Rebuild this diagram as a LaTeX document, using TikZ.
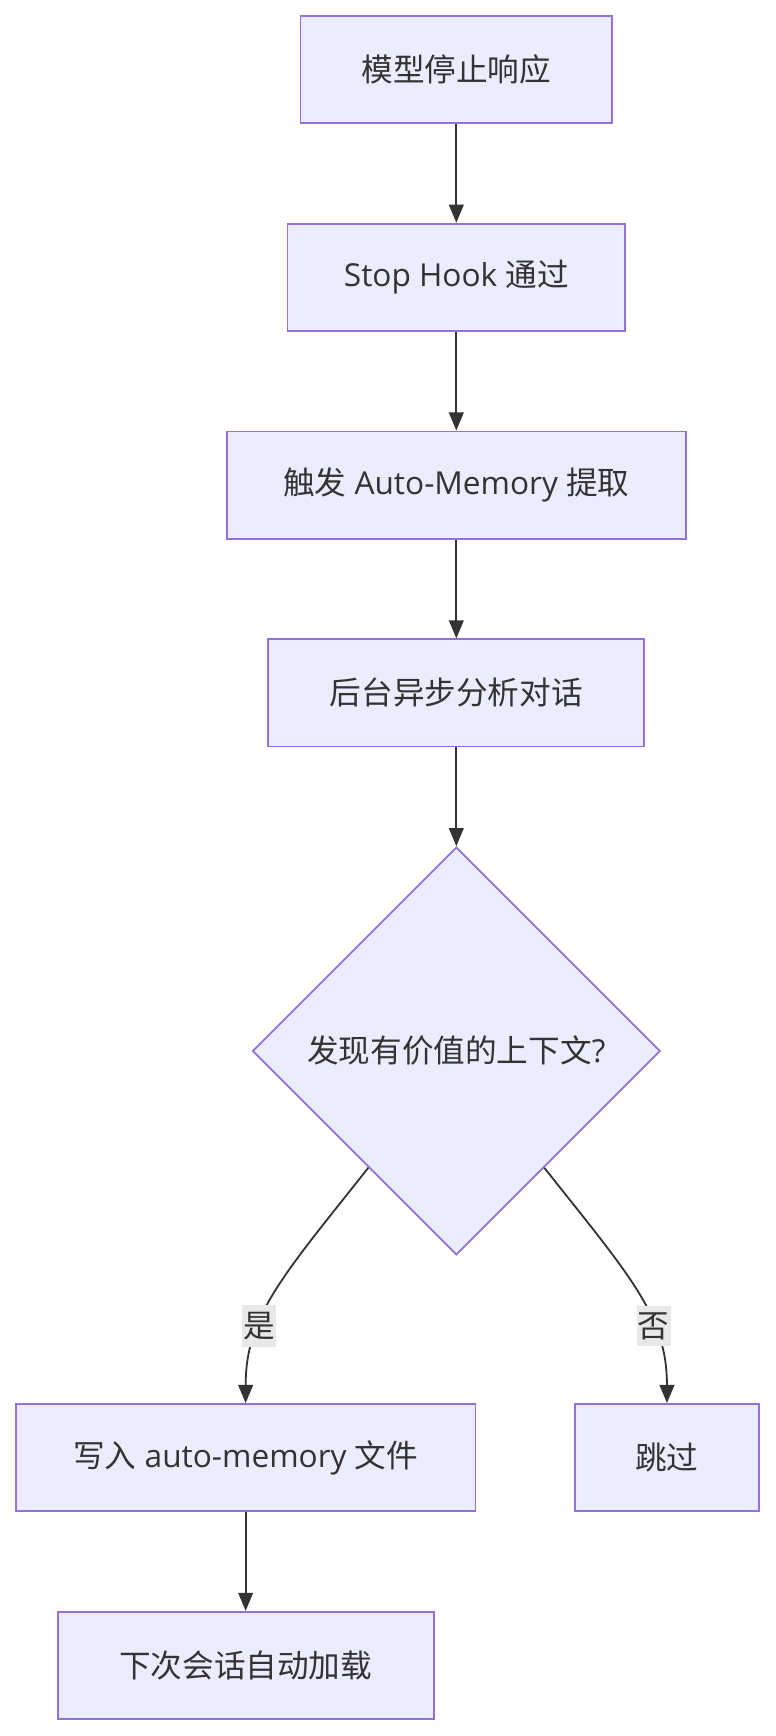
\documentclass[tikz,border=0pt]{standalone}
\usepackage{fontspec}
\setmainfont{Open Sans}
\newfontfamily\zh{Noto Sans CJK SC}
\usetikzlibrary{shapes.geometric,arrows.meta}
\definecolor{boxfill}{HTML}{ECECFF}
\definecolor{boxline}{HTML}{9370DB}
\definecolor{flowline}{HTML}{333333}
\definecolor{answerbg}{HTML}{E8E8E8}
\begin{document}
\begin{tikzpicture}[x=0.5pt, y=-0.5pt,
    box/.style={draw=boxline, fill=boxfill, line width=0.8pt, minimum height=47.5pt,
        inner sep=0pt, text=flowline, font=\fontsize{14pt}{17pt}\selectfont},
    decision/.style={box, diamond, aspect=1, minimum width=180.5pt, minimum height=180.5pt},
    flow/.style={draw=flowline, line width=0.8pt, -{Triangle[length=8pt,width=6.5pt]}},
    answer/.style={fill=answerbg, text=flowline, inner xsep=0.5pt, inner ysep=3pt,
        font=\fontsize{14pt}{17pt}\selectfont\zh}]
    \useasboundingbox (0, 0) rectangle (687, 1537);
    \node[box, minimum width=138pt] (halt) at (404, 61.5) {\zh 模型停止响应};
    \node[box, minimum width=149.5pt] (hook) at (404, 245.5) {Stop Hook {\zh 通过}};
    \node[box, minimum width=203pt] (trigger) at (404, 429.5) {{\zh 触发} Auto-Memory {\zh 提取}};
    \node[box, minimum width=166.5pt] (analyse) at (404, 613.5) {\zh 后台异步分析对话};
    \node[decision] (found) at (404, 930.5) {{\zh 发现有价值的上下文}?};
    \node[box, minimum width=203.5pt] (write) at (217.5, 1290.5) {{\zh 写入} auto-memory {\zh 文件}};
    \node[box, minimum width=81.5pt] (skip) at (590.5, 1290.5) {\zh 跳过};
    \node[box, minimum width=166.5pt] (load) at (217.5, 1474.5) {\zh 下次会话自动加载};
    \draw[flow] (halt) -- (hook);
    \draw[flow] (hook) -- (trigger);
    \draw[flow] (trigger) -- (analyse);
    \draw[flow] (analyse) -- (found);
    \draw[flow] (found.-127) .. controls (250, 1130) and (217.5, 1165) .. (write.north)
        node[answer, pos=0.66] {是};
    \draw[flow] (found.-53) .. controls (558, 1130) and (590.5, 1165) .. (skip.north)
        node[answer, pos=0.66] {否};
    \draw[flow] (write) -- (load);
\end{tikzpicture}
\end{document}
